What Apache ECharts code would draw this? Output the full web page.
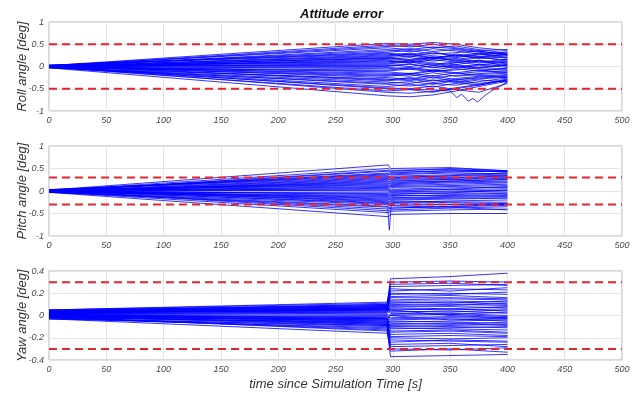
<!DOCTYPE html>
<html>
<head>
<meta charset="utf-8">
<script src="https://cdn.jsdelivr.net/npm/echarts@6/dist/echarts.min.js"></script>
<style>
  html, body { margin: 0; padding: 0; background: #ffffff; }
  #chart { width: 634px; height: 396px; }
</style>
</head>
<body>
<div id="chart"></div>
<script>
// ---- Monte Carlo attitude error runs (deg) ----

// Roll: each run gives values at rollTimes
const rollTimes = [0, 295, 315, 335, 355, 375, 400];
const rollRuns = [
  [0.02, 0.52, 0.50, 0.54, 0.50, 0.42, 0.36],
  [-0.03, -0.66, -0.68, -0.64, -0.55, -0.45, -0.33],
  [0.01, 0.45, 0.47, 0.42, 0.46, 0.38, 0.30],
  [-0.02, -0.55, -0.52, -0.58, -0.48, -0.40, -0.28],
  [0.00, 0.38, 0.33, 0.40, 0.35, 0.28, 0.33],
  [0.02, 0.32, 0.36, 0.28, 0.31, 0.35, 0.25],
  [-0.01, -0.45, -0.40, -0.46, -0.38, -0.30, -0.35],
  [0.03, 0.28, 0.22, 0.30, 0.25, 0.20, 0.28],
  [-0.02, -0.35, -0.38, -0.30, -0.36, -0.42, -0.30],
  [0.00, 0.24, 0.28, 0.20, 0.26, 0.18, 0.22],
  [0.01, -0.30, -0.25, -0.32, -0.27, -0.22, -0.18],
  [-0.01, 0.20, 0.15, 0.22, 0.12, 0.20, 0.15],
  [0.02, -0.25, -0.28, -0.20, -0.30, -0.24, -0.20],
  [-0.02, 0.16, 0.20, 0.12, 0.18, 0.10, 0.16],
  [0.00, -0.20, -0.15, -0.22, -0.14, -0.20, -0.25],
  [0.01, 0.12, 0.08, 0.15, 0.10, 0.14, 0.08],
  [-0.01, -0.15, -0.18, -0.10, -0.16, -0.12, -0.10],
  [0.02, 0.08, 0.12, 0.05, 0.10, 0.04, 0.10],
  [-0.02, -0.10, -0.06, -0.12, -0.05, -0.10, -0.04],
  [0.00, 0.04, 0.00, 0.06, -0.02, 0.05, 0.02],
  [0.01, -0.05, -0.02, -0.08, 0.00, -0.06, -0.08],
  [-0.01, 0.00, 0.05, -0.03, 0.04, -0.02, 0.05],
  [0.03, 0.30, 0.26, 0.33, 0.22, 0.28, 0.18],
  [-0.03, -0.28, -0.32, -0.24, -0.34, -0.28, -0.24],
  [0.02, 0.22, 0.27, 0.18, 0.24, 0.30, 0.20],
  [-0.01, -0.22, -0.18, -0.26, -0.20, -0.16, -0.12],
  [0.01, 0.18, 0.14, 0.20, 0.16, 0.22, 0.12],
  [0.00, -0.12, -0.16, -0.08, -0.14, -0.08, -0.14],
  [0.02, 0.10, 0.14, 0.08, 0.04, 0.12, 0.06],
  [-0.02, -0.08, -0.04, -0.10, -0.08, -0.02, -0.06],
  [0.01, 0.35, 0.40, 0.34, 0.38, 0.32, 0.26],
  [-0.01, -0.40, -0.44, -0.38, -0.42, -0.34, -0.26],
  [0.00, 0.26, 0.30, 0.24, 0.20, 0.26, 0.30],
  [0.02, -0.18, -0.22, -0.14, -0.22, -0.18, -0.15],
  [-0.02, 0.14, 0.10, 0.18, 0.14, 0.08, 0.12],
  [0.01, -0.32, -0.28, -0.36, -0.30, -0.26, -0.22],
  [0.00, 0.06, 0.10, 0.02, 0.08, 0.14, 0.00],
  [-0.01, -0.02, -0.06, 0.02, -0.04, 0.03, -0.02],
  [0.02, 0.42, 0.38, 0.44, 0.40, 0.34, 0.28],
  [-0.02, -0.48, -0.50, -0.44, -0.52, -0.58, -0.38],
  [0.03, 0.02, 0.06, -0.02, 0.02, -0.04, 0.04],
  [-0.03, -0.38, -0.34, -0.40, -0.32, -0.38, -0.32],
  [0.01, 0.48, 0.44, 0.50, 0.42, 0.36, 0.38],
  [0.00, -0.58, -0.60, -0.56, -0.50, -0.42, -0.30],
  [-0.01, 0.19, 0.24, 0.16, 0.28, 0.22, 0.26]
];
// Roll run that loops below the limit late in the flight
const rollLoopTimes = [0, 295, 330, 350, 356, 360, 366, 370, 374, 380, 386, 400];
const rollLoopValues = [0.00, -0.50, -0.52, -0.55, -0.70, -0.62, -0.78, -0.72, -0.80, -0.66, -0.55, -0.35];

// Pitch: each run gives values at pitchTimes
const pitchTimes = [0, 296, 298, 350, 400];
const pitchRuns = [
  [0.02, 0.58, 0.50, 0.52, 0.45],
  [-0.03, -0.57, -0.52, -0.50, -0.50],
  [0.01, 0.50, 0.46, 0.48, 0.42],
  [-0.02, -0.48, -0.45, -0.42, -0.40],
  [0.00, 0.44, 0.42, 0.44, 0.43],
  [0.02, 0.38, 0.36, 0.40, 0.38],
  [-0.01, -0.40, -0.38, -0.35, -0.32],
  [0.03, 0.34, 0.30, 0.33, 0.35],
  [-0.02, -0.34, -0.32, -0.30, -0.28],
  [0.00, 0.30, 0.28, 0.30, 0.32],
  [0.01, -0.28, -0.26, -0.22, -0.20],
  [-0.01, 0.26, 0.24, 0.25, 0.28],
  [0.02, -0.24, -0.22, -0.24, -0.25],
  [-0.02, 0.22, 0.20, 0.22, 0.25],
  [0.00, -0.20, -0.18, -0.16, -0.15],
  [0.01, 0.18, 0.16, 0.20, 0.22],
  [-0.01, -0.16, -0.15, -0.12, -0.10],
  [0.02, 0.14, 0.12, 0.15, 0.18],
  [-0.02, -0.12, -0.10, -0.10, -0.08],
  [0.00, 0.10, 0.08, 0.10, 0.12],
  [0.01, -0.08, -0.06, -0.05, -0.04],
  [-0.01, 0.06, 0.04, 0.07, 0.08],
  [0.03, 0.04, 0.02, 0.03, 0.05],
  [-0.03, -0.04, -0.03, -0.02, 0.00],
  [0.02, 0.00, -0.02, 0.00, 0.02],
  [-0.01, 0.02, 0.00, 0.04, 0.10],
  [0.01, 0.08, 0.10, 0.12, 0.15],
  [0.00, -0.06, -0.08, -0.04, 0.02],
  [0.02, 0.12, 0.14, 0.18, 0.20],
  [-0.02, -0.10, -0.12, -0.08, -0.05],
  [0.01, 0.16, 0.18, 0.22, 0.26],
  [-0.01, -0.14, -0.16, -0.14, -0.12],
  [0.00, 0.20, 0.22, 0.26, 0.30],
  [0.02, -0.18, -0.20, -0.18, -0.16],
  [-0.02, 0.24, 0.26, 0.28, 0.34],
  [0.01, -0.22, -0.24, -0.26, -0.28],
  [0.00, 0.28, 0.30, 0.34, 0.38],
  [-0.01, -0.26, -0.28, -0.30, -0.30],
  [0.02, 0.32, 0.33, 0.36, 0.40],
  [-0.02, -0.30, -0.33, -0.36, -0.42],
  [0.03, 0.36, 0.38, 0.42, 0.44],
  [-0.03, -0.36, -0.38, -0.34, -0.30],
  [0.01, 0.40, 0.40, 0.46, 0.44],
  [0.00, -0.44, -0.42, -0.38, -0.35],
  [-0.01, 0.46, 0.44, 0.50, 0.45]
];
// Short transient on one pitch run at the mode switch
const pitchSpikeTimes = [295.5, 297, 298.5];
const pitchSpikeValues = [-0.36, -0.87, -0.32];

// Yaw: each run gives values at yawTimes
const yawTimes = [0, 295, 298, 350, 400];
const yawRuns = [
  [0.04, 0.10, 0.33, 0.35, 0.38],
  [-0.02, -0.12, -0.37, -0.36, -0.35],
  [0.03, 0.08, 0.30, 0.31, 0.30],
  [-0.01, -0.14, -0.32, -0.30, -0.33],
  [0.05, 0.12, 0.26, 0.27, 0.28],
  [0.00, -0.08, -0.28, -0.27, -0.26],
  [0.02, 0.06, 0.22, 0.24, 0.23],
  [-0.03, -0.16, -0.24, -0.22, -0.23],
  [0.04, 0.09, 0.20, 0.19, 0.21],
  [0.01, -0.06, -0.20, -0.21, -0.20],
  [0.03, 0.05, 0.17, 0.18, 0.16],
  [-0.02, -0.10, -0.17, -0.16, -0.18],
  [0.02, 0.07, 0.14, 0.15, 0.14],
  [0.00, -0.04, -0.14, -0.13, -0.15],
  [0.05, 0.11, 0.12, 0.11, 0.13],
  [-0.01, -0.07, -0.12, -0.11, -0.10],
  [0.03, 0.04, 0.10, 0.09, 0.11],
  [0.01, -0.02, -0.10, -0.09, -0.08],
  [0.02, 0.03, 0.08, 0.08, 0.07],
  [-0.03, -0.09, -0.08, -0.07, -0.09],
  [0.04, 0.08, 0.06, 0.05, 0.06],
  [0.00, -0.05, -0.06, -0.05, -0.04],
  [0.01, 0.02, 0.04, 0.03, 0.05],
  [-0.02, -0.03, -0.04, -0.03, -0.05],
  [0.03, 0.06, 0.02, 0.01, 0.03],
  [0.00, -0.01, -0.02, -0.01, -0.02],
  [0.02, 0.01, 0.00, 0.01, -0.01],
  [-0.01, -0.04, 0.01, 0.02, 0.00],
  [0.04, 0.07, 0.03, 0.04, 0.02],
  [0.01, 0.00, -0.03, -0.02, -0.03],
  [0.03, 0.05, 0.05, 0.06, 0.04],
  [-0.02, -0.06, -0.05, -0.06, -0.07],
  [0.02, 0.03, 0.07, 0.06, 0.08],
  [0.00, -0.02, -0.07, -0.08, -0.06],
  [0.05, 0.09, 0.09, 0.10, 0.09],
  [-0.01, -0.08, -0.09, -0.10, -0.11],
  [0.03, 0.04, 0.11, 0.12, 0.10],
  [0.01, -0.03, -0.11, -0.12, -0.13],
  [0.02, 0.06, 0.13, 0.13, 0.12],
  [-0.03, -0.11, -0.15, -0.14, -0.16],
  [0.04, 0.10, 0.16, 0.16, 0.15],
  [0.00, -0.05, -0.19, -0.18, -0.19],
  [0.03, 0.07, 0.19, 0.20, 0.19],
  [-0.02, -0.13, -0.22, -0.23, -0.24],
  [0.02, 0.05, 0.24, 0.22, 0.25],
  [0.01, -0.07, -0.26, -0.25, -0.28],
  [0.04, 0.08, 0.28, 0.29, 0.27],
  [-0.01, -0.09, -0.30, -0.31, -0.29],
  [0.03, 0.06, 0.05, 0.00, -0.02],
  [0.00, -0.03, 0.00, -0.04, -0.03]
];

// Requirement limits (deg) per axis
const rollLimits = [0.5, -0.5];
const pitchLimits = [0.3, -0.3];
const yawLimits = [0.3, -0.3];

// Axis ranges and tick spacing
const timeRange = [0, 500];
const timeStep = 50;
const rollRange = [-1, 1], rollStep = 0.5;
const pitchRange = [-1, 1], pitchStep = 0.5;
const yawRange = [-0.4, 0.4], yawStep = 0.2;

const panelNames = ['Roll angle [deg]', 'Pitch angle [deg]', 'Yaw angle [deg]'];
const titleText = 'Attitude error';
const timeAxisName = 'time since Simulation Time [s]';

// ---- drawing ----
const FONT = '"Liberation Sans", Arial, sans-serif';
const BLUE = '#0000ff';
const RED = '#e4252b';

function pairs(times, values) {
  return times.map((t, i) => [t, values[i]]);
}

function runSeries(times, runs, idx) {
  return runs.map(r => ({
    type: 'line',
    xAxisIndex: idx, yAxisIndex: idx,
    data: pairs(times, r),
    symbol: 'none', showSymbol: false, silent: true,
    lineStyle: { color: BLUE, width: 0.9, opacity: 0.88 },
    z: 2
  }));
}

function limitSeries(limits, idx) {
  return limits.map(v => ({
    type: 'line',
    xAxisIndex: idx, yAxisIndex: idx,
    data: [[timeRange[0], v], [timeRange[1], v]],
    symbol: 'none', showSymbol: false, silent: true,
    lineStyle: { color: RED, width: 2, type: [8, 5] },
    z: 4
  }));
}

const gridTops = [22, 146, 271];
const gridHeights = [89, 90, 89];

const grids = gridTops.map((top, i) => ({
  left: 49, right: 12, top: top, height: gridHeights[i],
  outerBoundsMode: 'none', containLabel: false,
  show: true, borderColor: '#b0b0b0', borderWidth: 1
}));

const labelStyle = { fontFamily: FONT, fontStyle: 'italic', fontSize: 9, color: '#4a4a4a' };

const xAxes = gridTops.map((_, i) => ({
  gridIndex: i, type: 'value',
  min: timeRange[0], max: timeRange[1], interval: timeStep,
  axisLine: { show: false }, axisTick: { show: false },
  splitLine: { show: true, lineStyle: { color: '#e3e3e3', width: 1 } },
  axisLabel: Object.assign({ margin: 5 }, labelStyle),
  name: i === 2 ? timeAxisName : '',
  nameLocation: 'middle', nameGap: 18, nameMoveOverlap: false,
  nameTextStyle: { fontFamily: FONT, fontStyle: 'italic', fontSize: 13, color: '#333333' }
}));

const yRanges = [rollRange, pitchRange, yawRange];
const ySteps = [rollStep, pitchStep, yawStep];
const yAxes = gridTops.map((_, i) => ({
  gridIndex: i, type: 'value',
  min: yRanges[i][0], max: yRanges[i][1], interval: ySteps[i],
  axisLine: { show: false }, axisTick: { show: false },
  splitLine: { show: true, lineStyle: { color: '#e3e3e3', width: 1 } },
  axisLabel: Object.assign({ margin: 5 }, labelStyle),
  name: panelNames[i], nameLocation: 'middle', nameGap: 20, nameMoveOverlap: false,
  nameTextStyle: { fontFamily: FONT, fontStyle: 'italic', fontSize: 13, color: '#333333' }
}));

const series = [].concat(
  runSeries(rollTimes, rollRuns, 0),
  runSeries(rollLoopTimes, [rollLoopValues], 0),
  runSeries(pitchTimes, pitchRuns, 1),
  runSeries(pitchSpikeTimes, [pitchSpikeValues], 1),
  runSeries(yawTimes, yawRuns, 2),
  limitSeries(rollLimits, 0),
  limitSeries(pitchLimits, 1),
  limitSeries(yawLimits, 2)
);

const chart = echarts.init(document.getElementById('chart'), null, { renderer: 'canvas' });
chart.setOption({
  animation: false,
  backgroundColor: '#ffffff',
  title: {
    text: titleText, left: 295, top: 3,
    textStyle: { fontFamily: FONT, fontStyle: 'italic', fontWeight: 'bold', fontSize: 13, color: '#111111' }
  },
  grid: grids,
  xAxis: xAxes,
  yAxis: yAxes,
  series: series
});
</script>
</body>
</html>
